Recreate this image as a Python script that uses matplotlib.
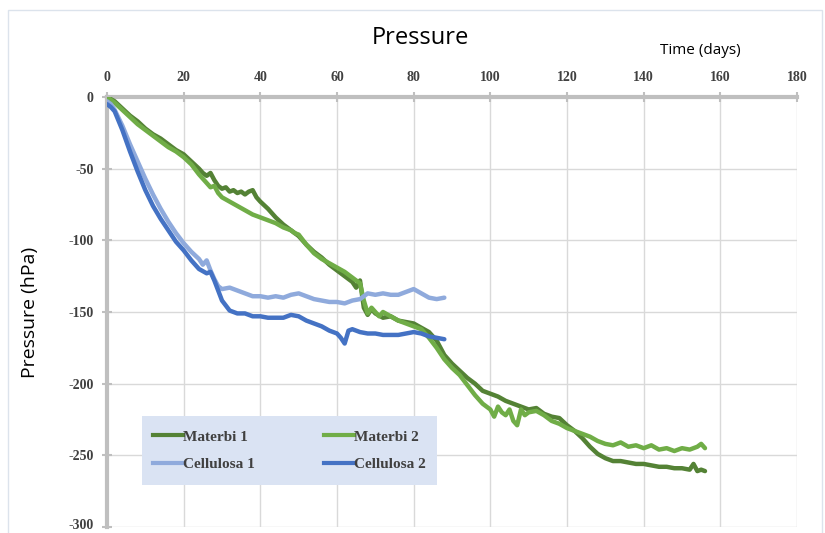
import numpy as np
import matplotlib
matplotlib.use('Agg')
import matplotlib.pyplot as plt
from matplotlib.patches import Rectangle
from matplotlib.lines import Line2D
import matplotlib.transforms as mtransforms

plt.rcParams['axes.unicode_minus'] = False

# --- data (days, hPa) ---
materbi1_days = [0, 2, 4, 6, 8, 10, 12, 14, 16, 18, 20, 22, 24, 25, 26, 27, 28, 29, 30, 31, 32, 33, 34, 35, 36, 37, 38, 39, 40,
                 42, 44, 46, 48, 50, 52, 54, 56, 58, 60, 62, 64, 65, 66, 67, 68, 69, 70, 72, 74, 76, 78, 80, 82, 84, 86, 88,
                 90, 92, 94, 96, 98, 100, 102, 104, 106, 108, 110, 112, 114, 116, 118, 120, 122, 124, 126, 128, 130, 132,
                 134, 136, 138, 140, 142, 144, 146, 148, 150, 152, 153, 154, 155, 156]
materbi1_vals = [0, -3, -8, -13, -17, -22, -26, -29, -33, -37, -40, -45, -50, -53, -55, -53, -58, -62, -64, -63, -66, -65, -67, -66, -68, -66, -65, -70, -73,
                 -78, -84, -89, -93, -97, -103, -108, -112, -117, -121, -125, -129, -133, -128, -147, -152, -148, -151, -154, -153, -156, -157, -158, -161, -164, -170, -180,
                 -186, -191, -196, -200, -205, -207, -209, -212, -214, -216, -218, -217, -221, -223, -224, -229, -233, -238, -244, -249, -252, -254,
                 -254, -255, -256, -256, -257, -258, -258, -259, -259, -260, -256, -261, -260, -261]

materbi2_days = [0, 2, 4, 6, 8, 10, 12, 14, 16, 18, 20, 22, 24, 26, 27, 28, 29, 30, 32, 34, 36, 38, 40, 42, 44, 46, 48, 49, 50,
                 52, 54, 56, 58, 60, 62, 64, 66, 67, 68, 69, 70, 71, 72, 74, 76, 78, 80, 82, 84, 86, 88, 90, 92, 94, 96, 98,
                 100, 101, 102, 103, 104, 105, 106, 107, 108, 109, 110, 112, 114, 116, 118, 120, 122, 124, 126, 128, 130,
                 132, 134, 136, 138, 140, 142, 144, 146, 148, 150, 152, 154, 155, 156]
materbi2_vals = [0, -4, -9, -14, -19, -23, -27, -31, -35, -38, -42, -47, -54, -60, -63, -62, -67, -70, -73, -76, -79, -82, -84, -86, -88, -91, -93, -95, -96,
                 -103, -109, -113, -116, -119, -122, -126, -130, -142, -151, -147, -150, -153, -150, -153, -156, -158, -160, -162, -168, -175, -183, -189, -194, -201, -208, -214,
                 -218, -223, -216, -220, -222, -218, -226, -229, -218, -222, -220, -219, -222, -226, -228, -231, -233, -235, -237, -240, -242,
                 -243, -241, -244, -243, -245, -243, -246, -245, -247, -245, -246, -244, -242, -245]

cell1_days = [0, 1, 2, 4, 6, 8, 10, 12, 14, 16, 18, 20, 22, 24, 25, 26, 27, 28, 29, 30, 32, 34, 36, 38, 40, 42, 44, 46, 48, 50,
              52, 54, 56, 58, 60, 62, 64, 66, 68, 70, 72, 74, 76, 78, 80, 82, 84, 86, 88]
cell1_vals = [-3, -5, -9, -20, -33, -45, -57, -68, -78, -87, -95, -102, -108, -113, -117, -114, -121, -127, -132, -134, -133, -135, -137, -139, -139, -140, -139, -140, -138, -137,
              -139, -141, -142, -143, -143, -144, -142, -141, -137, -138, -137, -138, -138, -136, -134, -137, -140, -141, -140]

cell2_days = [0, 1, 2, 4, 6, 8, 10, 12, 14, 16, 18, 20, 22, 24, 26, 27, 28, 29, 30, 32, 34, 36, 38, 40, 42, 44, 46, 48, 50,
              52, 54, 56, 58, 60, 61, 62, 63, 64, 66, 68, 70, 72, 74, 76, 78, 80, 82, 84, 86, 88]
cell2_vals = [-5, -7, -10, -23, -38, -52, -65, -76, -85, -93, -101, -107, -114, -120, -123, -122, -128, -135, -142, -149, -151, -151, -153, -153, -154, -154, -154, -152, -153,
              -156, -158, -160, -163, -165, -168, -172, -163, -162, -164, -165, -165, -166, -166, -166, -165, -164, -165, -167, -168, -169]

series = [
    ('Materbi 1', materbi1_days, materbi1_vals, '#548235'),
    ('Materbi 2', materbi2_days, materbi2_vals, '#70AD47'),
    ('Cellulosa 1', cell1_days, cell1_vals, '#8FAADC'),
    ('Cellulosa 2', cell2_days, cell2_vals, '#4472C4'),
]

x_ticks = [0, 20, 40, 60, 80, 100, 120, 140, 160, 180]
y_ticks = [0, -50, -100, -150, -200, -250, -300]

fig = plt.figure(figsize=(8.25, 5.33), dpi=100)
ax = fig.add_axes([107/825, 1 - 527/533, 690/825, 430/533])

# faint outer frame
fig.patches.append(Rectangle((8/825, -0.01), 814/825, 1 - 10/533 + 0.01, transform=fig.transFigure,
                             fill=False, edgecolor='#DCE3EC', lw=1))

for name, d, v, c in series:
    ax.plot(d, v, color=c, lw=3.2, label=name, solid_capstyle='round', solid_joinstyle='round', zorder=3)

ax.set_xlim(0, 180)
ax.set_ylim(-300, 0)
ax.set_xticks(x_ticks)
ax.set_yticks(y_ticks)
ax.grid(True, color='#D9D9D9', lw=1)
ax.set_axisbelow(True)

ax.xaxis.tick_top()
for s in ['right', 'bottom']:
    ax.spines[s].set_visible(False)
for s in ['top', 'left']:
    ax.spines[s].set_color('#BFBFBF')
    ax.spines[s].set_linewidth(3)
ax.tick_params(axis='both', direction='inout', length=7, width=1.5, color='#BFBFBF',
               labelsize=10, labelcolor='#404040', pad=6)
for lab in ax.get_xticklabels() + ax.get_yticklabels():
    lab.set_fontfamily('Liberation Serif')
    lab.set_fontweight('bold')
# keep the lowest y label inside the picture
ylabs = ax.get_yticklabels()
ylabs[-1].set_transform(ylabs[-1].get_transform() + mtransforms.ScaledTranslation(0, 3/100, fig.dpi_scale_trans))

fig.text(420/825, 1 - 38/533, 'Pressure', ha='center', va='center', fontsize=17, family='Open Sans')
fig.text(700/825, 1 - 50/533, 'Time (days)', ha='center', va='center', fontsize=11, family='Open Sans')
fig.text(30/825, 1 - 312/533, 'Pressure (hPa)', ha='center', va='center', rotation=90, fontsize=14, family='Open Sans')

# legend box
ax.add_patch(Rectangle((35/690, 1 - 485/430 + 97/430), 295/690, 69/430, transform=ax.transAxes,
                       facecolor='#DAE3F3', edgecolor='none', zorder=4))
handles = [Line2D([], [], color=c, lw=3) for _, _, _, c in series]
labels = [n for n, _, _, _ in series]
order = [0, 2, 1, 3]
leg = ax.legend([handles[i] for i in order], [labels[i] for i in order], ncol=2, frameon=False,
                loc='center', bbox_to_anchor=(182.5/690, 1 - (450.5 - 97)/430),
                handlelength=2.0, handletextpad=0.0, columnspacing=4.5, labelspacing=0.9,
                prop={'family': 'Liberation Serif', 'weight': 'bold', 'size': 11})
leg.set_zorder(5)
for t in leg.get_texts():
    t.set_color('#404040')

fig.savefig('out.png', dpi=100)
